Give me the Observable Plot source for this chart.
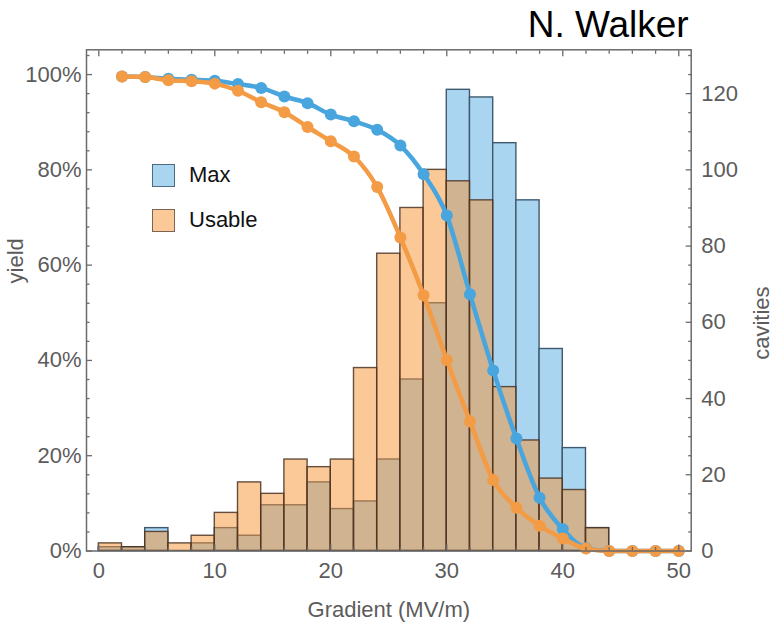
<!DOCTYPE html>
<html><head><meta charset="utf-8">
<script src="https://cdn.jsdelivr.net/npm/d3@7"></script>
<script src="https://cdn.jsdelivr.net/npm/@observablehq/plot@0.6"></script>
<style>
body{margin:0;background:#fff;}
#wrap{position:relative;width:773px;height:627px;font-family:"Liberation Sans",Arial,sans-serif;}
.leg{position:absolute;left:152px;display:flex;align-items:center;font-size:22px;color:#111;height:24px;}
.sw{width:21px;height:21px;border:1.5px solid;margin-right:14px;box-sizing:content-box;}
</style></head><body><div id="wrap"></div>
<script>
// ---- data ----
const binStart = [0,2,4,6,8,10,12,14,16,18,20,22,24,26,28,30,32,34,36,38,40,42];
const binWidth = 2;
const maxCounts    = [1,1,6,0,2,6,4,12,12,18,11,13,24,45,65,121,119,107,92,53,27,6];
const usableCounts = [2,1,5,2,4,10,18,15,24,22,24,48,78,90,100,97,92,43,29,19,16,6];
const yieldX      = [2,4,6,8,10,12,14,16,18,20,22,24,26,28,30,32,34,36,38,40,42,44,46,48,50];
const maxYield    = [99.6,99.5,99.1,98.9,98.7,98.0,97.2,95.4,94.0,91.6,90.2,88.4,85.1,79.1,70.4,53.9,37.9,23.6,11.2,4.6,0.6,0,0,0,0];
const usableYield = [99.6,99.5,98.8,98.6,98.1,96.6,94.2,92.1,89.0,86.0,82.8,76.4,65.8,53.7,40.1,27.2,14.9,9.1,5.3,2.6,0.5,0,0,0,0];
const xTicks = [0,10,20,30,40,50];
const yieldTicks = [0,20,40,60,80,100];
const cavTicks = [0,20,40,60,80,100,120];
const cavPerPct = 1.25; // 100% yield aligned with 125 cavities

// ---- tables ----
const bars = binStart.map((x0,i)=>({x0, x1:x0+binWidth, max:maxCounts[i], usable:usableCounts[i]}));
const maxLine = yieldX.map((x,i)=>({x, y:maxYield[i]*cavPerPct}));
const useLine = yieldX.map((x,i)=>({x, y:usableYield[i]*cavPerPct}));
const xMinor = d3.range(0,51,2).filter(v=>!xTicks.includes(v));
const leftMajor = yieldTicks.map(p=>p*cavPerPct);
const leftMinor = d3.range(0,131,5).filter(v=>!leftMajor.includes(v));
const rightMinor = d3.range(0,131,5).filter(v=>!cavTicks.includes(v));

const blue = "#49a5de", orange = "#f39b45";
const tickCol = "#6b6b6b", txtCol = "#5c5c5c";
const none = () => "";
// inward ticks: normal outward ticks shifted inside the frame by their own length
const shift = {bottom:[0,-1], top:[0,1], left:[1,0], right:[-1,0]};
const tk = (axis, ticks, anchor, size) => axis(ticks, {
  anchor, tickSize:size, tickPadding:0, tickFormat:none, label:null,
  stroke:tickCol, strokeWidth:1.3, dx:shift[anchor][0]*size, dy:shift[anchor][1]*size
});

const chart = Plot.plot({
  width:773, height:627,
  marginLeft:86, marginRight:82.3, marginTop:49.3, marginBottom:76.5,
  style:{fontFamily:'"Liberation Sans",Arial,sans-serif', background:"#fff"},
  x:{domain:[-1.06,51.07], label:null},
  y:{domain:[0,131.5], label:null},
  marks:[
    Plot.rectY(bars,{x1:"x0", x2:"x1", y:"max", fill:"#a9d5f0", stroke:"#3f5a6e", strokeWidth:1.4}),
    Plot.rectY(bars,{x1:"x0", x2:"x1", y:"usable", fill:"#f79131", fillOpacity:0.5, stroke:"#4a3424", strokeOpacity:0.85, strokeWidth:1.4}),
    Plot.line(maxLine,{x:"x", y:"y", stroke:blue, strokeWidth:4.5, curve:"monotone-x"}),
    Plot.dot(maxLine,{x:"x", y:"y", r:6, fill:blue}),
    Plot.line(useLine,{x:"x", y:"y", stroke:orange, strokeWidth:4.5, curve:"monotone-x"}),
    Plot.dot(useLine,{x:"x", y:"y", r:6, fill:orange}),
    Plot.frame({stroke:tickCol, strokeWidth:1.5}),
    // inward ticks
    tk(Plot.axisX, xTicks, "bottom", 6), tk(Plot.axisX, xMinor, "bottom", 3.5),
    tk(Plot.axisX, xTicks, "top", 6), tk(Plot.axisX, xMinor, "top", 3.5),
    tk(Plot.axisY, leftMajor, "left", 6), tk(Plot.axisY, leftMinor, "left", 3.5),
    tk(Plot.axisY, cavTicks, "right", 6), tk(Plot.axisY, rightMinor, "right", 3.5),
    // tick labels
    Plot.axisX(xTicks,{anchor:"bottom", tickSize:0, tickPadding:11, fontSize:22, fill:txtCol, label:null}),
    Plot.axisY(leftMajor,{anchor:"left", tickSize:0, tickPadding:5, fontSize:22, fill:txtCol, label:null, tickFormat:d=>`${Math.round(d/cavPerPct)}%`}),
    Plot.axisY(cavTicks,{anchor:"right", tickSize:0, tickPadding:10, fontSize:22, fill:txtCol, label:null}),
    // axis titles
    Plot.text(["Gradient (MV/m)"],{frameAnchor:"bottom", dy:66, lineAnchor:"bottom", fontSize:22, fill:txtCol}),
    Plot.text(["yield"],{frameAnchor:"left", dx:-64, dy:-17, rotate:-90, lineAnchor:"bottom", fontSize:22, fill:txtCol}),
    Plot.text(["cavities"],{frameAnchor:"right", dx:78, dy:-14, rotate:-90, lineAnchor:"bottom", fontSize:22, fill:txtCol}),
    Plot.text(["N. Walker"],{frameAnchor:"top-right", dx:-2.5, dy:-12.5, textAnchor:"end", lineAnchor:"bottom", fontSize:37, fill:"#000"})
  ]
});
const wrap = document.getElementById("wrap");
wrap.appendChild(chart);
const legend = [["Max","#a9d5f0","#4f6b80",163],["Usable","#fbc898","#7b6452",208]];
for (const [name, fill, edge, top] of legend) {
  const d = document.createElement("div");
  d.className = "leg"; d.style.top = top + "px";
  d.innerHTML = `<span class="sw" style="background:${fill};border-color:${edge}"></span><span>${name}</span>`;
  wrap.appendChild(d);
}
</script></body></html>
